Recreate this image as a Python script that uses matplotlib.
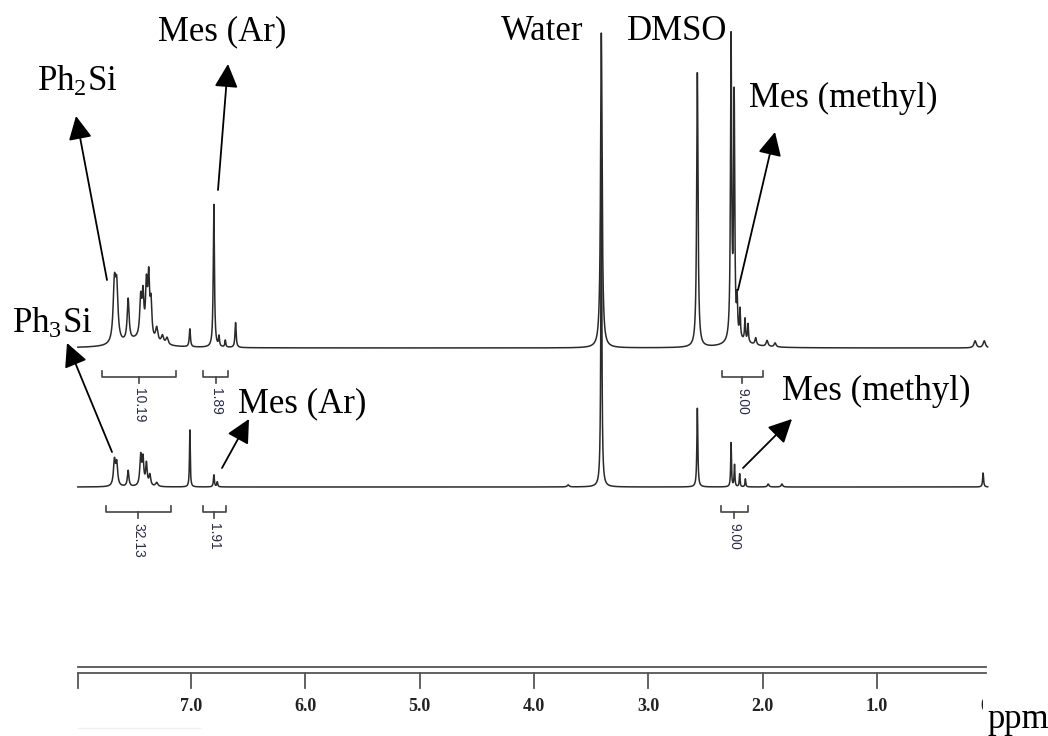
import matplotlib
matplotlib.use('Agg')
import matplotlib.pyplot as plt
import numpy as np

plt.rcParams['mathtext.fontset'] = 'custom'
plt.rcParams['mathtext.rm'] = 'Liberation Serif'
plt.rcParams['mathtext.it'] = 'Liberation Serif:italic'

# peaks: position (ppm), height (px), half width (ppm)
top_ppm = [7.67, 7.65, 7.55, 7.44, 7.42, 7.39, 7.37, 7.35, 7.30, 7.25, 7.21, 7.45,
           7.01, 6.80, 6.755, 6.70, 6.61, 3.41, 2.57, 2.275, 2.248, 2.222, 2.197,
           2.153, 2.127, 2.06, 2.20, 1.96, 1.89, 0.14, 0.06]
top_h = [56, 52, 42, 38, 40, 50, 58, 34, 14, 8, 7, 8,
         18, 143, 10, 7, 25, 315, 275, 300, 240, 35, 28,
         22, 18, 7, 6, 6, 4, 7, 7]
top_w = [0.013, 0.013, 0.010, 0.010, 0.009, 0.009, 0.009, 0.009, 0.012, 0.012, 0.012, 0.15,
         0.006, 0.006, 0.005, 0.005, 0.006, 0.008, 0.007, 0.006, 0.006, 0.005, 0.005,
         0.005, 0.005, 0.008, 0.12, 0.01, 0.01, 0.012, 0.012]

bot_ppm = [7.67, 7.65, 7.55, 7.44, 7.42, 7.39, 7.36, 7.30, 7.01, 6.80, 6.77,
           3.70, 3.41, 2.57, 2.275, 2.245, 2.20, 2.15, 1.95, 1.83, 0.07]
bot_h = [25, 22, 16, 30, 26, 22, 11, 4, 57, 12, 5,
         2, 330, 79, 44, 22, 13, 8, 3, 3, 14]
bot_w = [0.010, 0.010, 0.008, 0.009, 0.008, 0.008, 0.009, 0.012, 0.004, 0.005, 0.005,
         0.01, 0.005, 0.005, 0.004, 0.004, 0.004, 0.004, 0.008, 0.008, 0.005]

# integrals: start, end (ppm), label
top_int_start = [7.78, 6.895, 2.354]
top_int_end = [7.13, 6.676, 1.996]
top_int_label = ['10.19', '1.89', '9.00']
bot_int_start = [7.744, 6.895, 2.363]
bot_int_end = [7.175, 6.694, 2.127]
bot_int_label = ['32.13', '1.91', '9.00']

ticks = [7.0, 6.0, 5.0, 4.0, 3.0, 2.0, 1.0, 0.0]

W, H = 1048, 736
PX = 114.3  # px per ppm


def ppm(xpx):
    return 7.0 - (xpx - 191) / PX


def spectrum(x, pos, hts, wid):
    y = np.zeros_like(x)
    for p, h, w in zip(pos, hts, wid):
        y += h / (1 + ((x - p) / w) ** 2)
    return y


fig = plt.figure(figsize=(W / 100, H / 100), dpi=100)
ax = fig.add_axes([0, 0, 1, 1])
ax.set_xlim(ppm(0), ppm(W))
ax.set_ylim(H, 0)
ax.axis('off')

x = np.linspace(7.99, 0.03, 10000)
top_base, bot_base = 348, 487
ax.plot(x, bot_base - spectrum(x, bot_ppm, bot_h, bot_w), color='#2a2a2a', lw=1.1)
ax.plot(x, top_base - spectrum(x, top_ppm, top_h, top_w), color='#2a2a2a', lw=1.1)

# integration brackets
def brackets(starts, ends, labels, yline, ylab):
    for a, b, lab in zip(starts, ends, labels):
        ax.plot([a, a, b, b], [yline - 6, yline, yline, yline - 6], color='#444444', lw=1.2)
        c = (a + b) / 2
        ax.plot([c, c], [yline, yline + 6], color='#444444', lw=1.2)
        ax.text(c, ylab, lab, rotation=270, ha='center', va='top', fontsize=10,
                family='Liberation Sans', color='#2b2b48')

brackets(top_int_start, top_int_end, top_int_label, 377, 388)
brackets(bot_int_start, bot_int_end, bot_int_label, 512, 523)

# labels and arrows
serif = dict(family='Liberation Serif', fontsize=25, color='black')
ax.text(ppm(37), 91, r'Ph$_2$Si', ha='left', va='baseline', **serif)
ax.text(ppm(158), 40, 'Mes (Ar)', ha='left', va='baseline', **serif)
ax.text(ppm(501), 40, 'Water', ha='left', va='baseline', **serif)
ax.text(ppm(627), 40, 'DMSO', ha='left', va='baseline', **serif)
ax.text(ppm(749), 107, 'Mes (methyl)', ha='left', va='baseline', **serif)
ax.text(ppm(12), 333, r'Ph$_3$Si', ha='left', va='baseline', **serif)
ax.text(ppm(238), 412, 'Mes (Ar)', ha='left', va='baseline', **serif)
ax.text(ppm(782), 400, 'Mes (methyl)', ha='left', va='baseline', **serif)

arrows = [((107, 280), (76, 116)),
          ((218, 190), (228, 64)),
          ((738, 290), (775, 132)),
          ((112, 452), (67, 343)),
          ((222, 468), (249, 419)),
          ((743, 468), (792, 419))]
for (x0, y0), (x1, y1) in arrows:
    ax.annotate('', xy=(ppm(x1), y1), xytext=(ppm(x0), y0),
                arrowprops=dict(arrowstyle='-|>,head_length=0.9,head_width=0.45',
                                color='black', lw=1.3, shrinkA=0, shrinkB=0,
                                mutation_scale=16))

# ppm scale
left, right = ppm(78), ppm(986)
ax.plot([left, right], [667, 667], color='#555555', lw=1.3)
ax.plot([left, right], [673, 673], color='#555555', lw=1.3)
ax.plot([left, left], [673, 688], color='#555555', lw=1.3)
for t in ticks[:-1]:
    ax.plot([t, t], [673, 688], color='#555555', lw=1.3)
ax.plot([left, ppm(200)], [728, 728], color='#f0f0f0', lw=1)

# tick labels clipped at the right end, as in the source
sc = fig.add_axes([0, 0, 983 / W, 1])
sc.set_xlim(ppm(0), ppm(983))
sc.set_ylim(H, 0)
sc.axis('off')
for t in ticks:
    sc.text(t, 711, f'{t:.1f}', ha='center', va='baseline', fontsize=13,
            fontweight='bold', family='Liberation Serif', color='#222222', clip_on=True)

fig.text(988 / W, 1 - 728 / H, 'ppm', ha='left', va='baseline',
         family='Liberation Serif', fontsize=25)

fig.savefig('out.png', dpi=100)
